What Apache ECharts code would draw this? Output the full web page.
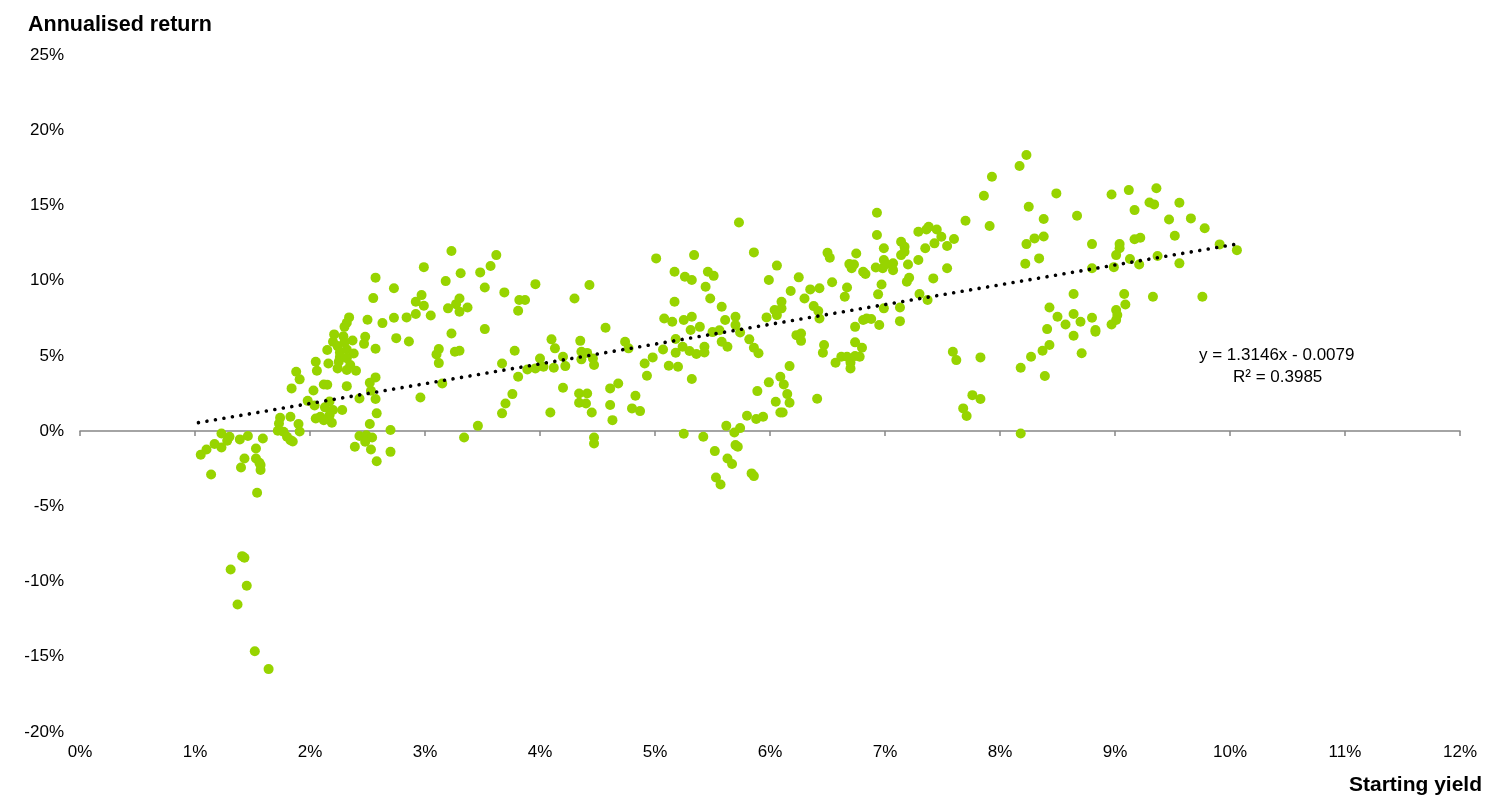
<!DOCTYPE html>
<html>
<head>
<meta charset="utf-8">
<script src="https://cdn.jsdelivr.net/npm/echarts@6/dist/echarts.min.js"></script>
<style>
html,body{margin:0;padding:0;background:#fff;}
#chart{width:1500px;height:811px;}
</style>
</head>
<body>
<div id="chart"></div>
<script>
// Starting yield (%) vs annualised return (%), grouped by yield band
var band1 = [[1.23,-0.16],[1.30,-0.38],[1.28,-0.64],[1.17,-0.86],[1.23,-1.09],[1.10,-1.22],[1.05,-1.57],[1.39,-0.55],[1.46,-0.33],[1.59,-0.49],[1.53,-1.15],[1.43,-1.82],[1.53,-1.82],[1.56,-2.11],[1.57,-2.26],[1.57,-2.59],[1.40,-2.42],[1.14,-2.88],[1.54,-4.10],[1.41,-8.31],[1.43,-8.42],[1.31,-9.20],[1.45,-10.28],[1.37,-11.52],[1.52,-14.63],[1.64,-15.82],
  [1.88,3.94],[1.91,3.44],[1.84,2.84],[1.98,2.01],[1.74,0.88],[1.83,0.95],[1.73,0.51],[1.90,0.47],[1.72,0.02],[1.77,-0.04],[1.91,-0.02],[1.80,-0.38],[1.83,-0.60],[1.85,-0.69]];
var band2 = [[2.99,10.90],[2.57,10.20],[2.73,9.50],[2.55,8.84],[2.97,9.04],[2.92,8.60],[2.99,8.33],[2.92,7.78],[2.84,7.56],[2.73,7.53],[2.63,7.18],[2.50,7.40],[2.34,7.56],[2.32,7.20],[2.30,6.93],[2.48,6.27],[2.47,5.80],[2.75,6.18],[2.86,5.96],[2.57,5.47],[2.96,2.24],
  [2.21,6.43],[2.29,6.30],[2.37,6.02],[2.20,5.94],[2.30,5.90],[2.24,5.65],[2.15,5.39],[2.32,5.43],[2.26,5.22],[2.38,5.16],[2.32,4.85],[2.26,4.92],[2.25,4.61],[2.35,4.39],[2.16,4.50],[2.24,4.17],[2.32,4.06],[2.40,4.01],[2.05,4.61],[2.06,4.01],
  [2.03,2.70],[2.12,3.10],[2.15,3.08],[2.32,2.99],[2.52,3.21],[2.57,3.57],[2.53,2.68],[2.57,2.13],[2.43,2.17],[2.04,1.70],[2.17,1.97],[2.13,1.58],[2.20,1.40],[2.28,1.40],[2.17,1.06],[2.19,0.55],[2.09,0.95],[2.05,0.84],[2.12,0.73],[2.58,1.18],[2.52,0.47],[2.70,0.07],
  [2.43,-0.33],[2.49,-0.27],[2.54,-0.42],[2.48,-0.71],[2.39,-1.04],[2.53,-1.22],[2.58,-2.00],[2.70,-1.38]];
var band3 = [[3.12,5.45],[3.10,5.10],[3.12,4.52],[3.05,7.69],[3.23,11.97],[3.18,9.97],[3.31,10.49],[3.20,8.16],[3.27,8.44],[3.30,8.82],[3.30,7.93],[3.37,8.22],[3.23,6.49],[3.26,5.27],[3.30,5.34],[3.15,3.17],[3.46,0.35],[3.34,-0.42],[3.48,10.55],[3.57,10.97],[3.62,11.70],[3.52,9.55],[3.69,9.22],[3.52,6.78],[3.81,8.00],[3.82,8.71],[3.87,8.71],[3.96,9.77],[3.78,5.34],[3.67,4.50],[3.81,3.61],[3.76,2.46],[3.70,1.84],[3.67,1.18],[3.89,4.10],[3.96,4.17]];
var band4 = [[4.00,4.83],[4.03,4.28],[4.12,4.21],[4.13,5.50],[4.10,6.10],[4.20,4.94],[4.22,4.32],[4.09,1.24],[4.20,2.88],[4.30,8.82],[4.43,9.71],[4.35,6.00],[4.36,5.27],[4.41,5.20],[4.36,4.77],[4.46,4.83],[4.47,4.39],[4.34,2.50],[4.41,2.50],[4.34,1.88],[4.40,1.84],[4.45,1.24],[4.47,-0.42],[4.47,-0.82],[4.57,6.87],[4.61,2.84],[4.68,3.17],[4.61,1.73],[4.63,0.73],[4.74,5.94],[4.77,5.50],[4.83,2.35],[4.80,1.51],[4.87,1.33],[4.91,4.50],[4.98,4.90],[4.93,3.68]];
var band5 = [[5.01,11.48],[5.08,7.49],[5.15,7.27],[5.17,10.59],[5.17,8.60],[5.07,5.43],[5.18,6.12],[5.18,5.21],[5.12,4.34],[5.20,4.28],[5.25,7.38],[5.32,7.60],[5.26,10.26],[5.32,10.04],[5.34,11.70],[5.31,6.72],[5.39,6.93],[5.24,5.61],[5.30,5.32],[5.36,5.12],[5.43,5.61],[5.43,5.23],[5.32,3.46],[5.46,10.59],[5.51,10.32],[5.44,9.59],[5.48,8.82],[5.50,6.58],[5.56,6.70],[5.25,-0.18],[5.42,-0.38],[5.52,-1.33],[5.58,8.27],
  [5.53,-3.08],[5.57,-3.55],[5.63,-1.82],[5.67,-2.19],[5.70,-0.93],[5.72,-1.04],[5.62,0.35],[5.69,-0.09],[5.74,0.20],[5.80,1.02],[5.88,0.80],[5.94,0.95],[5.84,-2.81],[5.86,-2.99],[5.89,2.66],[5.99,3.24],[5.73,13.87],[5.86,11.88],[5.61,7.38],[5.70,7.60],[5.70,7.05],[5.74,6.56],[5.58,5.94],[5.63,5.61],[5.82,6.10],[5.86,5.54],[5.90,5.17],[5.99,10.04],[5.97,7.56]];
var band6 = [[6.06,11.00],[6.04,8.05],[6.06,7.71],[6.10,8.60],[6.10,8.16],[6.09,3.61],[6.12,3.10],[6.15,2.46],[6.17,1.88],[6.05,1.95],[6.09,1.24],[6.11,1.24],[6.17,4.32],[6.41,2.15],[6.18,9.31],[6.25,10.22],[6.30,8.82],[6.23,6.38],[6.27,6.49],[6.27,6.00],[6.35,9.42],[6.43,9.49],[6.38,8.31],[6.42,7.98],[6.43,7.49],[6.47,5.72],[6.46,5.21],[6.50,11.86],[6.52,11.52],[6.54,9.89],[6.57,4.54],[6.62,4.94],[6.67,4.94],[6.70,4.54],[6.70,4.17],[6.74,4.99],[6.78,4.94],[6.80,5.54],[6.74,5.90],[6.65,8.93],[6.67,9.55],[6.69,11.10],[6.71,10.82],[6.73,11.08],[6.75,11.81],[6.81,10.59],[6.83,10.44],[6.74,6.93],[6.81,7.38],[6.84,7.49],[6.88,7.45],[6.93,14.52],[6.93,13.03],[6.99,12.15],[6.92,10.88],[6.98,10.82],[6.99,11.37],[6.97,9.75],[6.94,9.09],[6.99,8.16],[6.95,7.05]];
var band7 = [[7.01,11.10],[7.07,11.15],[7.07,10.70],[7.13,8.22],[7.13,7.31],[7.14,12.59],[7.17,12.25],[7.14,11.70],[7.17,11.92],[7.20,11.08],[7.21,10.19],[7.19,9.93],[7.29,13.25],[7.36,13.40],[7.38,13.58],[7.45,13.40],[7.49,12.92],[7.35,12.15],[7.43,12.48],[7.29,11.37],[7.42,10.15],[7.54,12.30],[7.60,12.77],[7.54,10.82],[7.30,9.11],[7.37,8.71],[7.70,13.98],[7.59,5.27],[7.62,4.72],[7.76,2.39],[7.83,2.13],[7.68,1.51],[7.71,1.00],[7.83,4.90],[7.93,16.91],[7.86,15.64],[7.91,13.63]];
var band8 = [[8.23,18.35],[8.17,17.62],[8.49,15.80],[8.25,14.91],[8.38,14.10],[8.67,14.32],[8.23,12.43],[8.30,12.81],[8.38,12.94],[8.22,11.12],[8.34,11.48],[8.80,12.43],[8.97,15.73],[8.80,10.82],[8.99,10.90],[8.64,9.11],[8.43,8.22],[8.50,7.60],[8.64,7.78],[8.70,7.27],[8.57,7.09],[8.80,7.53],[8.83,6.72],[8.83,6.60],[8.64,6.34],[8.71,5.17],[8.41,6.78],[8.43,5.72],[8.37,5.34],[8.27,4.94],[8.18,4.21],[8.39,3.66],[8.18,-0.16],[8.97,7.09]];
var band9 = [[9.12,16.02],[9.17,14.69],[9.30,15.20],[9.34,15.07],[9.36,16.14],[9.56,15.18],[9.47,14.07],[9.66,14.14],[9.78,13.48],[9.52,12.99],[9.17,12.75],[9.22,12.85],[9.04,12.43],[9.04,12.15],[9.01,11.70],[9.13,11.44],[9.21,11.08],[9.37,11.64],[9.56,11.15],[9.91,12.41],[10.06,12.03],[9.33,8.93],[9.76,8.93],[9.08,9.11],[9.09,8.42],[9.01,8.05],[9.02,7.71],[9.01,7.38]];

// Linear trendline as printed on the chart: y = 1.3146x - 0.0079 (in fractions)
var trendSlope = 1.3146;
var trendIntercept = -0.0079;
var trendX = [1.03, 10.09];
var trendLabel = ['y = 1.3146x - 0.0079', 'R\u00b2 = 0.3985'];

var xTicks = {min: 0, max: 12, interval: 1};
var yTicks = {min: -20, max: 25, interval: 5};

var points = [].concat(band1, band2, band3, band4, band5, band6, band7, band8, band9);
var trendData = trendX.map(function (x) {
  return [x, (trendSlope * x / 100 + trendIntercept) * 100];
});

var FONT = '"Liberation Sans", Arial, Helvetica, sans-serif';
var chart = echarts.init(document.getElementById('chart'));
chart.setOption({
  backgroundColor: '#ffffff',
  animation: false,
  textStyle: {fontFamily: FONT},
  title: {
    text: 'Annualised return',
    left: 23, top: 9,
    textStyle: {fontFamily: FONT, fontSize: 21.5, fontWeight: 'bold', color: '#000'}
  },
  grid: {left: 80, right: 40, top: 55, bottom: 79, containLabel: false},
  xAxis: [{
    type: 'value', min: xTicks.min, max: xTicks.max, interval: xTicks.interval,
    axisLine: {show: false, onZero: false}, axisTick: {show: false}, splitLine: {show: false},
    axisLabel: {formatter: '{value}%', fontSize: 17, color: '#000', margin: 12, fontFamily: FONT}
  }, {
    type: 'value', position: 'bottom', min: xTicks.min, max: xTicks.max, interval: xTicks.interval,
    axisLine: {show: true, onZero: true, lineStyle: {color: '#868686', width: 1.5}},
    axisTick: {show: true, length: 5, lineStyle: {color: '#868686', width: 1.5}},
    axisLabel: {show: false}, splitLine: {show: false}
  }],
  yAxis: {
    type: 'value', min: yTicks.min, max: yTicks.max, interval: yTicks.interval,
    axisLine: {show: false, onZero: false}, axisTick: {show: false}, splitLine: {show: false},
    axisLabel: {formatter: '{value}%', fontSize: 17, color: '#000', margin: 16, fontFamily: FONT}
  },
  series: [{
    type: 'scatter',
    xAxisIndex: 0,
    data: points,
    symbolSize: 10,
    itemStyle: {color: '#97D400', opacity: 1},
    z: 2
  }, {
    type: 'line',
    xAxisIndex: 0,
    data: trendData,
    symbol: 'none',
    lineStyle: {color: '#000', width: 3.6, type: [0.01, 8.6], cap: 'round'},
    z: 3
  }],
  graphic: [{
    type: 'text', left: 1199, top: 347,
    style: {text: trendLabel[0], font: '17px ' + FONT, fill: '#000'}
  }, {
    type: 'text', left: 1233, top: 369,
    style: {text: trendLabel[1], font: '17px ' + FONT, fill: '#000'}
  }, {
    type: 'text', right: 18, top: 775,
    style: {text: 'Starting yield', font: 'bold 21px ' + FONT, fill: '#000'}
  }]
});
</script>
</body>
</html>
